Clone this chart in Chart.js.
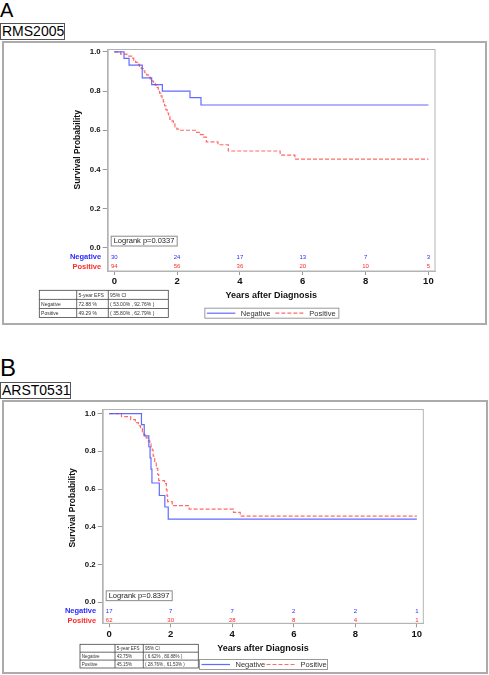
<!DOCTYPE html>
<html>
<head>
<meta charset="utf-8">
<script src="https://cdn.jsdelivr.net/npm/chart.js@4.4.0/dist/chart.umd.min.js"></script>
<style>
  body { margin: 0; background: #fff; width: 489px; height: 675px; position: relative; overflow: hidden;
         font-family: "Liberation Sans", Arial, sans-serif; }
  .letra { position: absolute; left: 0; line-height: 1; color: #000; }
  .estudio { position: absolute; left: 0; border: 1px solid #555; font-size: 14px; line-height: 15px;
             height: 15px; padding-left: 1px; color: #000; }
  .marco { position: absolute; border: 2px solid #ababab; box-sizing: border-box; }
  canvas { position: absolute; left: 0; }
</style>
</head>
<body>
<div class="letra" style="top:0px; font-size:20px;">A</div>
<div class="estudio" style="top:22.5px; width:62px;">RMS2005</div>
<div class="marco" style="left:2px; top:41px; width:485px; height:284px;"></div>
<canvas id="graficoA" width="489" height="330" style="top:0px;"></canvas>

<div class="letra" style="top:355.5px; font-size:24px;">B</div>
<div class="estudio" style="top:381.5px; width:68px;">ARST0531</div>
<div class="marco" style="left:2px; top:400px; width:486px; height:274px;"></div>
<canvas id="graficoB" width="489" height="345" style="top:330px;"></canvas>

<script>
const FUENTE = '"Liberation Sans", Arial, sans-serif';

// Ejes
const anios = [0, 2, 4, 6, 8, 10];
const ticksSupervivencia = [0, 0.2, 0.4, 0.6, 0.8, 1.0];
const grupos = ['Negative', 'Positive'];

// RMS2005 - curvas de Kaplan-Meier (tiempo en años, supervivencia)
const rmsNegTiempo = [0, 0.31, 0.47, 0.89, 1.19, 1.53, 2.41, 2.76, 10];
const rmsNegSuperv = [1, 0.967, 0.933, 0.867, 0.833, 0.800, 0.767, 0.729, 0.729];
const rmsPosTiempo = [0, 0.20, 0.40, 0.55, 0.62, 0.68, 0.74, 0.80, 0.86, 0.92, 0.97, 1.03, 1.08, 1.14, 1.20, 1.25, 1.30, 1.36, 1.40, 1.44,
                      1.48, 1.52, 1.56, 1.60, 1.64, 1.68, 1.73, 1.77, 1.83, 1.88, 1.93, 1.99, 2.09, 2.62, 2.74, 2.84, 2.93, 3.30, 3.63, 5.28, 5.75, 10];
const rmsPosSuperv = [1, 0.989, 0.979, 0.968, 0.957, 0.947, 0.936, 0.926, 0.915, 0.904, 0.894, 0.883, 0.872, 0.862, 0.851, 0.840, 0.830, 0.819, 0.808, 0.790,
                      0.776, 0.760, 0.745, 0.725, 0.705, 0.688, 0.670, 0.655, 0.648, 0.636, 0.617, 0.606, 0.600, 0.589, 0.578, 0.565, 0.541, 0.526, 0.494, 0.473, 0.452, 0.452];
const rmsRiesgoNeg = [30, 24, 17, 13, 7, 3];
const rmsRiesgoPos = [94, 56, 36, 20, 10, 5];
const rmsLogrank = 'Logrank p=0.0337';
const rmsTablaCab = ['', '5-year EFS', '95% CI'];
const rmsTablaNeg = ['Negative', '72.88 %', '( 53.00% , 92.76% )'];
const rmsTablaPos = ['Positive', '49.29 %', '( 35.80% , 62.79% )'];

// ARST0531
const arstNegTiempo = [0, 1.05, 1.14, 1.29, 1.33, 1.36, 1.39, 1.63, 1.81, 1.92, 10];
const arstNegSuperv = [1, 0.941, 0.882, 0.824, 0.765, 0.706, 0.632, 0.566, 0.505, 0.441, 0.441];
const arstPosTiempo = [0, 0.40, 0.70, 0.85, 0.95, 1.02, 1.08, 1.13, 1.20, 1.27, 1.32, 1.36, 1.40, 1.43, 1.48, 1.53, 1.58, 1.61, 1.80, 1.86,
                       1.88, 1.90, 2.05, 2.60, 4.04, 4.26, 10];
const arstPosSuperv = [1, 0.984, 0.968, 0.952, 0.935, 0.919, 0.903, 0.887, 0.871, 0.855, 0.839, 0.823, 0.806, 0.774, 0.742, 0.710, 0.677, 0.645, 0.629, 0.597,
                       0.565, 0.533, 0.512, 0.494, 0.476, 0.457, 0.457];
const arstRiesgoNeg = [17, 7, 7, 2, 2, 1];
const arstRiesgoPos = [62, 30, 28, 8, 4, 1];
const arstLogrank = 'Logrank p=0.8397';
const arstTablaCab = ['', '5-year EFS', '95% CI'];
const arstTablaNeg = ['Negative', '43.75%', '( 6.62% , 80.88% )'];
const arstTablaPos = ['Positive', '45.15%', '( 28.76% , 61.53% )'];

// filas de "numero en riesgo" debajo de y=0
const filasRiesgo = [-0.048, -0.096];

const AZUL = 'rgba(80, 90, 255, 0.9)';
const ROJO = 'rgba(255, 90, 90, 0.9)';
const textoColor = ['#2a2aff', '#ff2a2a'];

const puntos = (t, s) => t.map((v, i) => ({ x: v, y: s[i] }));

// Dibuja marco, numeros en riesgo, logrank, titulos, leyenda y tabla EFS
const crearExtras = (cfg) => ({
    id: 'extrasKM',
    beforeDatasetsDraw(chart) {
        const { ctx, chartArea: ca } = chart;
        ctx.save();
        ctx.strokeStyle = '#b4b4b4';
        ctx.lineWidth = 1;
        ctx.strokeRect(ca.left + 0.5, ca.top + 0.5, ca.width - 0.5, ca.height - 0.5);
        ctx.restore();
    },
    afterDraw(chart) {
        const { ctx, chartArea: ca, scales: { x, y } } = chart;
        ctx.save();

        // numeros en riesgo
        cfg.riesgo.forEach((fila, k) => {
            const py = y.getPixelForValue(filasRiesgo[k]);
            ctx.fillStyle = textoColor[k];
            ctx.textBaseline = 'middle';
            ctx.textAlign = 'center';
            ctx.font = '6px ' + FUENTE;
            fila.forEach((n, i) => ctx.fillText(String(n), x.getPixelForValue(anios[i]), py));
            ctx.textAlign = 'right';
            ctx.font = 'bold 7.5px ' + FUENTE;
            ctx.fillText(grupos[k], ca.left - 6.5, py);
        });

        // caja logrank
        const y0 = y.getPixelForValue(0);
        ctx.strokeStyle = '#8a8a8a';
        ctx.lineWidth = 1;
        ctx.strokeRect(ca.left + 3.5, y0 - 11.5, 66, 9.8);
        ctx.fillStyle = '#222';
        ctx.font = '7.5px ' + FUENTE;
        ctx.textAlign = 'left';
        ctx.fillText(cfg.logrank, ca.left + 6, y0 - 6.5);

        // titulo eje y
        ctx.save();
        ctx.translate(ca.left - 30.5, (y.getPixelForValue(0) + y.getPixelForValue(1)) / 2);
        ctx.rotate(-Math.PI / 2);
        ctx.textAlign = 'center';
        ctx.font = 'bold 8.5px ' + FUENTE;
        ctx.fillStyle = '#111';
        ctx.fillText('Survival Probability', 0, 0);
        ctx.restore();

        // titulo eje x
        const cx = (ca.left + ca.right) / 2;
        ctx.textAlign = 'center';
        ctx.font = 'bold 9px ' + FUENTE;
        ctx.fillStyle = '#111';
        ctx.fillText('Years after Diagnosis', cx, ca.bottom + 25);

        // leyenda
        const ly = ca.bottom + cfg.leyendaTop;
        const lx = cx - cfg.leyendaAncho / 2;
        ctx.strokeStyle = '#9a9a9a';
        ctx.strokeRect(lx + 0.5, ly + 0.5, cfg.leyendaAncho, 10);
        ctx.font = '7.5px ' + FUENTE;
        ctx.fillStyle = '#333';
        ctx.textAlign = 'left';
        chart.data.datasets.forEach((ds, k) => {
            const x1 = lx + 2.5 + k * cfg.leyendaPaso;
            ctx.save();
            ctx.strokeStyle = ds.borderColor;
            ctx.lineWidth = 1.2;
            ctx.setLineDash(ds.borderDash || []);
            ctx.beginPath();
            ctx.moveTo(x1, ly + 5.5);
            ctx.lineTo(x1 + 28.5, ly + 5.5);
            ctx.stroke();
            ctx.restore();
            ctx.fillText(ds.label, x1 + 34, ly + 6);
        });

        // tabla EFS
        const t = cfg.tabla;
        const filas = t.filas;
        const totalAncho = t.anchos.reduce((a, b) => a + b, 0);
        const ty = ca.bottom + t.top;
        ctx.strokeStyle = '#444';
        ctx.lineWidth = 0.8;
        ctx.strokeRect(t.izq, ty, totalAncho, t.alto * filas.length);
        filas.forEach((fila, r) => {
            if (r > 0) {
                ctx.beginPath();
                ctx.moveTo(t.izq, ty + r * t.alto);
                ctx.lineTo(t.izq + totalAncho, ty + r * t.alto);
                ctx.stroke();
            }
            let cxl = t.izq;
            fila.forEach((txt, c) => {
                if (r === 0 && c > 0) {
                    ctx.beginPath();
                    ctx.moveTo(cxl, ty);
                    ctx.lineTo(cxl, ty + t.alto * filas.length);
                    ctx.stroke();
                }
                ctx.fillStyle = '#333';
                ctx.font = t.fuente + 'px ' + FUENTE;
                ctx.textAlign = 'left';
                ctx.fillText(txt, cxl + 1.8, ty + r * t.alto + t.alto / 2 + 0.3);
                cxl += t.anchos[c];
            });
        });
        ctx.restore();
    }
});

const crearGrafico = (id, datasets, lay, extras) => {
    const ctx = document.getElementById(id).getContext('2d');
    return new Chart(ctx, {
        type: 'line',
        data: { datasets: datasets },
        options: {
            responsive: false,
            animation: false,
            layout: { padding: { top: lay.arriba, right: lay.derecha, left: 0, bottom: 0 } },
            plugins: { legend: { display: false }, tooltip: { enabled: false } },
            elements: { point: { radius: 0 }, line: { tension: 0 } },
            scales: {
                x: {
                    type: 'linear',
                    min: -0.21,
                    max: 10.21,
                    afterFit: s => { s.height = lay.altoX; },
                    afterBuildTicks: s => { s.ticks = anios.map(v => ({ value: v })); },
                    grid: { display: true, drawOnChartArea: false, drawTicks: true, tickLength: 4, color: '#999' },
                    border: { display: true, color: '#b4b4b4' },
                    ticks: { autoSkip: false, maxRotation: 0, padding: 1, color: '#111',
                             font: { family: FUENTE, size: 9.5, weight: 'bold' }, callback: v => v }
                },
                y: {
                    type: 'linear',
                    min: lay.ymin,
                    max: lay.ymax,
                    afterFit: s => { s.width = lay.anchoY; },
                    afterBuildTicks: s => { s.ticks = ticksSupervivencia.map(v => ({ value: v })); },
                    grid: { display: true, drawOnChartArea: false, drawTicks: true, tickLength: 5, color: '#999' },
                    border: { display: true, color: '#b4b4b4' },
                    ticks: { autoSkip: false, padding: 2, color: '#111',
                             font: { family: FUENTE, size: 7.8, weight: 'bold' }, callback: v => v.toFixed(1) }
                }
            }
        },
        plugins: [crearExtras(extras)]
    });
};

const serie = (nombre, t, s, color, guion) => ({
    label: nombre,
    data: puntos(t, s),
    borderColor: color,
    borderWidth: 1.2,
    borderDash: guion,
    stepped: true,
    fill: false
});

crearGrafico('graficoA', [
    serie('Negative', rmsNegTiempo, rmsNegSuperv, AZUL, []),
    serie('Positive', rmsPosTiempo, rmsPosSuperv, ROJO, [4, 2])
], { arriba: 49, derecha: 54, anchoY: 107.7, altoX: 59, ymin: -0.119, ymax: 1.015 }, {
    riesgo: [rmsRiesgoNeg, rmsRiesgoPos],
    logrank: rmsLogrank,
    leyendaTop: 36.7, leyendaAncho: 134, leyendaPaso: 68.5,
    tabla: { izq: 39.3, top: 19.3, anchos: [37.4, 31.6, 60], alto: 9.1, fuente: 5,
             filas: [rmsTablaCab, rmsTablaNeg, rmsTablaPos] }
});

crearGrafico('graficoB', [
    serie('Negative', arstNegTiempo, arstNegSuperv, AZUL, []),
    serie('Positive', arstPosTiempo, arstPosSuperv, ROJO, [4, 2])
], { arriba: 79, derecha: 65.7, anchoY: 102.7, altoX: 51.7, ymin: -0.111, ymax: 1.024 }, {
    riesgo: [arstRiesgoNeg, arstRiesgoPos],
    logrank: arstLogrank,
    leyendaTop: 35.7, leyendaAncho: 128, leyendaPaso: 65,
    tabla: { izq: 80, top: 21, anchos: [35, 28.3, 55], alto: 7.9, fuente: 4.5,
             filas: [arstTablaCab, arstTablaNeg, arstTablaPos] }
});
</script>
</body>
</html>
